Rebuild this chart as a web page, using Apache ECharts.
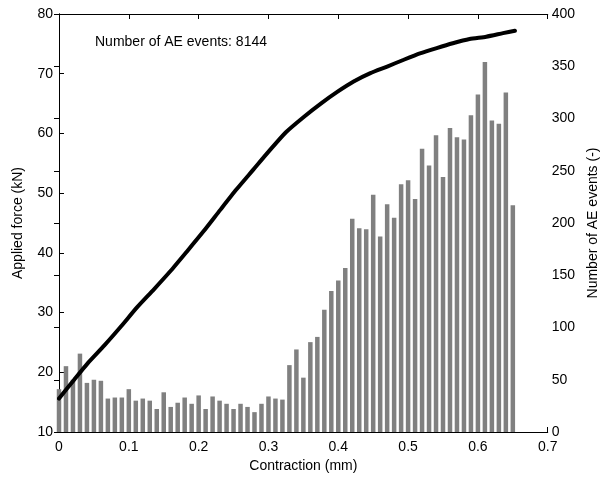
<!DOCTYPE html>
<html>
<head>
<meta charset="utf-8">
<script src="https://cdn.jsdelivr.net/npm/echarts@6/dist/echarts.min.js"></script>
<style>
html,body{margin:0;padding:0;background:#fff;}
#chart{width:608px;height:483px;}
</style>
</head>
<body>
<div id="chart"></div>
<script>
// Histogram of AE events per contraction bin (mm)
const binCenters = [0.00,0.01,0.02,0.03,0.04,0.05,0.06,0.07,0.08,0.09,
  0.10,0.11,0.12,0.13,0.14,0.15,0.16,0.17,0.18,0.19,
  0.20,0.21,0.22,0.23,0.24,0.25,0.26,0.27,0.28,0.29,
  0.30,0.31,0.32,0.33,0.34,0.35,0.36,0.37,0.38,0.39,
  0.40,0.41,0.42,0.43,0.44,0.45,0.46,0.47,0.48,0.49,
  0.50,0.51,0.52,0.53,0.54,0.55,0.56,0.57,0.58,0.59,
  0.60,0.61,0.62,0.63,0.64,0.65];
const aeEvents = [41,63,50,75,47,50,49,32,33,33,
  41,30,32,30,22,38,24,28,33,27,
  35,22,34,30,27,22,27,24,19,27,
  34,32,31,64,79,52,86,91,117,135,
  145,157,204,195,194,227,187,218,205,237,
  241,223,271,255,284,244,291,282,280,303,
  323,354,298,295,325,217];

// Applied force curve
const contraction = [0,0.022,0.041,0.065,0.089,0.112,0.136,0.160,0.183,0.207,0.231,0.254,0.278,0.302,0.325,0.351,0.375,0.399,0.422,0.446,0.470,0.493,0.517,0.541,0.564,0.588,0.612,0.636,0.653];
const force = [15.6,18.8,21.5,24.5,27.7,30.9,33.9,37.0,40.2,43.6,47.2,50.6,53.9,57.2,60.2,62.8,65.0,67.0,68.7,70.1,71.2,72.3,73.4,74.3,75.1,75.8,76.2,76.8,77.2];

const annotation = 'Number of AE events: 8144';
const xName = 'Contraction (mm)';
const yLeftName = 'Applied force (kN)';
const yRightName = 'Number of AE events (-)';

const FONT = '"Liberation Sans", Arial, sans-serif';
const chart = echarts.init(document.getElementById('chart'), null, {renderer: 'canvas'});

const axisLine = {show: true, lineStyle: {color: '#000', width: 1}};
const axisTick = {show: true, inside: true, length: 5, lineStyle: {color: '#000', width: 1}};
const axisLabel = {color: '#000', fontFamily: FONT, fontSize: 14};

chart.setOption({
  animation: false,
  backgroundColor: '#fff',
  grid: {left: 59, right: 55, top: 14, bottom: 51, containLabel: false},
  xAxis: [
    {
      type: 'value', min: 0, max: 0.7, interval: 0.1, position: 'bottom',
      name: xName, nameLocation: 'middle', nameGap: 26,
      nameTextStyle: {color: '#000', fontFamily: FONT, fontSize: 14},
      axisLine: axisLine, axisTick: axisTick,
      axisLabel: Object.assign({}, axisLabel, {margin: 8, formatter: v => (Math.round(v*10)/10).toString()}),
      splitLine: {show: false}
    },
    {
      type: 'value', min: 0, max: 0.7, interval: 0.1, position: 'top',
      axisLine: axisLine, axisTick: axisTick,
      axisLabel: {show: false}, splitLine: {show: false}
    }
  ],
  yAxis: [
    {
      type: 'value', min: 10, max: 80, interval: 10, position: 'left',
      name: yLeftName, nameLocation: 'middle', nameGap: 34, nameRotate: 90,
      nameTextStyle: {color: '#000', fontFamily: FONT, fontSize: 14},
      axisLine: axisLine, axisTick: axisTick,
      axisLabel: Object.assign({}, axisLabel, {margin: 6}),
      splitLine: {show: false}
    },
    {
      type: 'value', min: 0, max: 400, interval: 50, position: 'right',
      name: yRightName, nameLocation: 'middle', nameGap: 33, nameRotate: 90,
      nameTextStyle: {color: '#000', fontFamily: FONT, fontSize: 14},
      axisLine: axisLine, axisTick: axisTick,
      axisLabel: Object.assign({}, axisLabel, {margin: 4}),
      splitLine: {show: false}
    }
  ],
  graphic: [
    {
      type: 'text', left: 95, top: 35,
      style: {text: annotation, fill: '#000', font: '14px ' + FONT}
    }
  ],
  series: [
    {
      type: 'bar', xAxisIndex: 0, yAxisIndex: 1,
      data: binCenters.map((c, i) => [c, aeEvents[i]]),
      barWidth: 4.5,
      itemStyle: {color: '#808080'},
      clip: true, z: 1
    },
    {
      type: 'line', xAxisIndex: 0, yAxisIndex: 0,
      data: contraction.map((c, i) => [c, force[i]]),
      showSymbol: false, symbol: 'none', smooth: 0.2,
      lineStyle: {color: '#000', width: 4, join: 'round', cap: 'round'},
      clip: true, z: 3
    }
  ]
});
</script>
</body>
</html>
